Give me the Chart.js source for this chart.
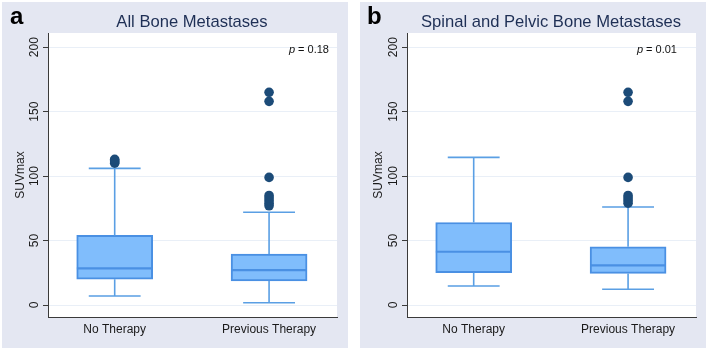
<!DOCTYPE html>
<html>
<head>
<meta charset="utf-8">
<script src="https://cdn.jsdelivr.net/npm/chart.js@4"></script>
<style>
  html, body { margin:0; padding:0; background:#ffffff; width:709px; height:350px; overflow:hidden; font-family:"Liberation Sans", Arial, sans-serif; }
  .panel { position:absolute; top:2px; width:346px; height:346px; background:#e4e7f2; }
  .panel canvas { position:absolute; left:0; top:0; }
  .lbl { position:absolute; white-space:nowrap; }
  .letter { font-size:24px; font-weight:bold; color:#000; line-height:24px; top:2px; }
  .title { font-size:16.6px; color:#1e2f55; line-height:20px; top:10px; transform:translateX(-50%); }
  .pval { font-size:11px; color:#111; line-height:13px; top:41px; transform:translateX(-100%); }
</style>
</head>
<body>
<div class="panel" id="pa" style="left:2px;">
  <div style="position:absolute;left:0;top:0;width:346px;height:346px;"><canvas id="ca"></canvas></div>
  <div class="lbl letter" style="left:8px;">a</div>
  <div class="lbl title" style="left:190px;">All Bone Metastases</div>
  <div class="lbl pval" style="left:327px;"><i>p</i> = 0.18</div>
</div>
<div class="panel" id="pb" style="left:360px;">
  <div style="position:absolute;left:0;top:0;width:346px;height:346px;"><canvas id="cb"></canvas></div>
  <div class="lbl letter" style="left:7px;">b</div>
  <div class="lbl title" style="left:191px;">Spinal and Pelvic Bone Metastases</div>
  <div class="lbl pval" style="left:317px;"><i>p</i> = 0.01</div>
</div>
<script>
// ---- data ----
const categories = ['No Therapy', 'Previous Therapy'];
const yTicks = [0, 50, 100, 150, 200];

// Panel a: All Bone Metastases
const aLower  = [7, 1.8];
const aQ1     = [20, 18.6];
const aMedian = [28.4, 27.1];
const aQ3     = [54, 39.5];
const aUpper  = [106, 72];
const aOutNo   = [110, 111, 112, 113];
const aOutPrev = [77, 79, 81, 83, 85, 99, 158, 165];

// Panel b: Spinal and Pelvic Bone Metastases
const bLower  = [14.7, 12.2];
const bQ1     = [25, 24.5];
const bMedian = [41.3, 30.8];
const bQ3     = [64, 45.2];
const bUpper  = [114.5, 76];
const bOutNo   = [];
const bOutPrev = [79, 81, 83, 85, 99, 158, 165];

// ---- style ----
const FONT = '"Liberation Sans", Arial, sans-serif';
const BOX_FILL = '#80bdfc';
const BOX_EDGE = '#4a90e3';
const WHISK = '#5a9fe4';
const DOT = '#1c4b78';
const BOX_HALF = 0.245;
const CAP_HALF = 0.168;

const bgPlugin = {
  id: 'plotbg',
  beforeDraw(chart) {
    const {ctx, chartArea: a} = chart;
    ctx.save();
    ctx.fillStyle = '#ffffff';
    ctx.fillRect(a.left, a.top, a.right - a.left, a.bottom - a.top);
    ctx.restore();
  }
};

function makeChart(id, lower, q1, med, q3, upper, outs, yW, rightPad) {
  const boxData = categories.map((c, i) => ({x: i, y: [q1[i], q3[i]]}));
  const medData = [];
  const whiskData = [];
  categories.forEach((c, i) => {
    medData.push({x: i - BOX_HALF, y: med[i]}, {x: i + BOX_HALF, y: med[i]}, {x: i, y: null});
    whiskData.push({x: i, y: q3[i]}, {x: i, y: upper[i]}, {x: i, y: null});
    whiskData.push({x: i - CAP_HALF, y: upper[i]}, {x: i + CAP_HALF, y: upper[i]}, {x: i, y: null});
    whiskData.push({x: i, y: q1[i]}, {x: i, y: lower[i]}, {x: i, y: null});
    whiskData.push({x: i - CAP_HALF, y: lower[i]}, {x: i + CAP_HALF, y: lower[i]}, {x: i, y: null});
  });
  const outData = [];
  outs.forEach((arr, i) => arr.forEach(v => outData.push({x: i, y: v})));

  return new Chart(document.getElementById(id), {
    type: 'bar',
    data: {
      datasets: [
        { type: 'scatter', data: outData, backgroundColor: DOT, borderColor: DOT, pointRadius: 4.8, pointHoverRadius: 4.8, borderWidth: 0 },
        { type: 'line', data: medData, borderColor: BOX_EDGE, borderWidth: 2.2, pointRadius: 0, spanGaps: false, fill: false },
        { type: 'line', data: whiskData, borderColor: WHISK, borderWidth: 1.6, pointRadius: 0, spanGaps: false, fill: false },
        { type: 'bar', data: boxData, backgroundColor: BOX_FILL, borderColor: BOX_EDGE, borderWidth: 2, borderSkipped: false, barThickness: 76 }
      ]
    },
    options: {
      responsive: true,
      maintainAspectRatio: false,
      animation: false,
      events: [],
      layout: { padding: { top: 31, right: rightPad, left: 0, bottom: 0 } },
      plugins: { legend: { display: false }, tooltip: { enabled: false } },
      scales: {
        x: {
          type: 'linear',
          offset: false,
          min: -0.432,
          max: 1.44,
          afterBuildTicks: (s) => { s.ticks = categories.map((c, i) => ({value: i})); },
          afterFit: (s) => { s.height = 31; },
          ticks: {
            callback: (v) => categories[v],
            font: { family: FONT, size: 12 },
            color: '#1a1a1a',
            padding: 5,
            maxRotation: 0,
            minRotation: 0
          },
          grid: { display: false, drawTicks: false, offset: false },
          border: { display: true, color: '#3a3a3a', width: 1 }
        },
        y: {
          type: 'linear',
          min: -9.3,
          max: 211,
          afterBuildTicks: (s) => { s.ticks = yTicks.map(v => ({value: v})); },
          afterFit: (s) => { s.width = yW; },
          ticks: {
            font: { family: FONT, size: 12 },
            color: '#1a1a1a',
            minRotation: 90,
            maxRotation: 90,
            crossAlign: 'center',
            padding: -2
          },
          grid: { color: '#e9eff7', lineWidth: 1, tickColor: '#3a3a3a', tickLength: 5, drawTicks: true },
          border: { display: true, color: '#3a3a3a', width: 1 },
          title: { display: true, text: 'SUVmax', font: { family: FONT, size: 12 }, color: '#1a1a1a', padding: { top: 11, bottom: 0 } }
        }
      }
    },
    plugins: [bgPlugin]
  });
}

makeChart('ca', aLower, aQ1, aMedian, aQ3, aUpper, [aOutNo, aOutPrev], 46, 11);
makeChart('cb', bLower, bQ1, bMedian, bQ3, bUpper, [bOutNo, bOutPrev], 47, 10);
</script>
</body>
</html>
